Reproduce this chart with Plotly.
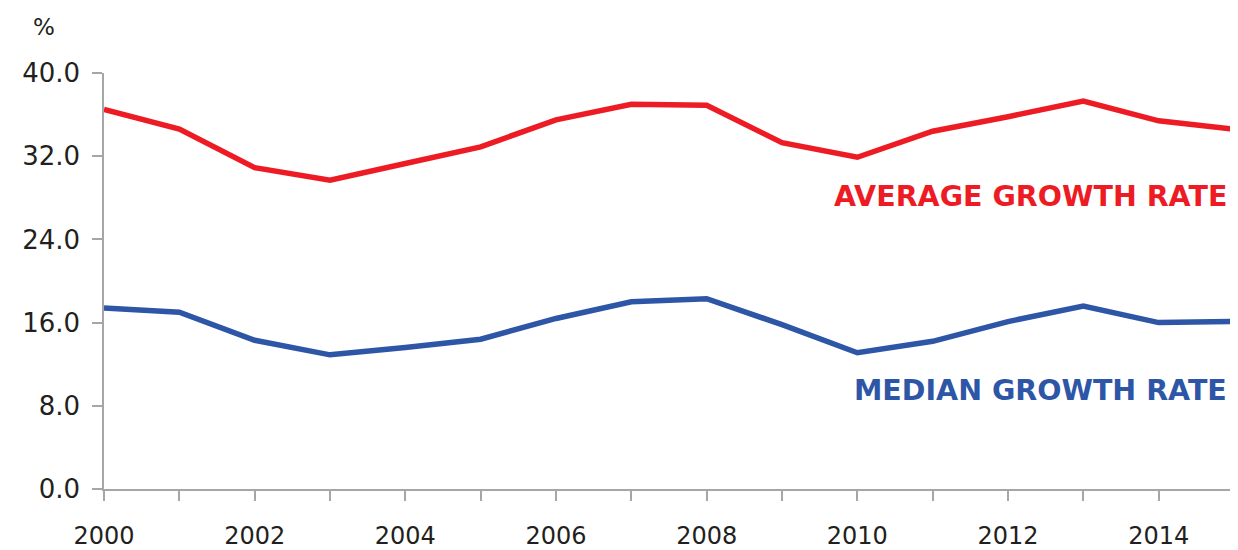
import plotly.graph_objects as go

years = list(range(2000, 2016))
average_growth = [36.5, 34.6, 30.9, 29.7, 31.3, 32.9, 35.5, 37.0, 36.9, 33.3, 31.9, 34.4, 35.8, 37.3, 35.4, 34.6]
median_growth = [17.4, 17.0, 14.3, 12.9, 13.6, 14.4, 16.4, 18.0, 18.3, 15.8, 13.1, 14.2, 16.1, 17.6, 16.0, 16.1]
y_ticks = [0, 8, 16, 24, 32, 40]
x_ticktext = [str(y) if y % 2 == 0 else "" for y in years]

RED = "#ED1C24"
BLUE = "#2E56A6"
FONT = "DejaVu Sans"

fig = go.Figure()
fig.add_trace(go.Scatter(x=years, y=average_growth, mode="lines",
                         line=dict(color=RED, width=5.5), name="Average growth rate"))
fig.add_trace(go.Scatter(x=years, y=median_growth, mode="lines",
                         line=dict(color=BLUE, width=5.5), name="Median growth rate"))

fig.add_annotation(x=1, xref="paper", y=28.1, yref="y",
                   text="<b>AVERAGE GROWTH RATE</b>", showarrow=False,
                   xanchor="right", yanchor="middle", xshift=-5,
                   font=dict(family=FONT, size=28.5, color=RED))
fig.add_annotation(x=1, xref="paper", y=9.5, yref="y",
                   text="<b>MEDIAN GROWTH RATE</b>", showarrow=False,
                   xanchor="right", yanchor="middle", xshift=-5,
                   font=dict(family=FONT, size=28.5, color=BLUE))
fig.add_annotation(x=0, xref="paper", y=1, yref="paper", text="%",
                   showarrow=False, xanchor="center", yanchor="middle",
                   xshift=-60, yshift=46,
                   font=dict(family=FONT, size=23, color="#231F20"))

fig.update_layout(
    width=1238, height=550,
    margin=dict(l=96, r=12, t=65, b=69),
    paper_bgcolor="white", plot_bgcolor="white",
    showlegend=False,
    font=dict(family=FONT, color="#231F20", size=26),
)
fig.update_xaxes(range=[2000, 2015], tickvals=years, ticktext=x_ticktext,
                 automargin=False,
                 showgrid=False, zeroline=False, showline=True,
                 linecolor="#A6A6A6", linewidth=1.5,
                 ticks="outside", ticklen=10, tickcolor="#A6A6A6", tickwidth=1.5,
                 ticklabelstandoff=14, tickfont=dict(size=24))
fig.update_yaxes(range=[0, 40], tickvals=y_ticks,
                 ticktext=[f"{v:.1f}" for v in y_ticks],
                 automargin=False,
                 showgrid=False, zeroline=False, showline=True,
                 linecolor="#A6A6A6", linewidth=1.5,
                 ticks="outside", ticklen=10, tickcolor="#A6A6A6", tickwidth=1.5,
                 ticklabelstandoff=7, tickfont=dict(size=26))

fig.write_html("out.html")
